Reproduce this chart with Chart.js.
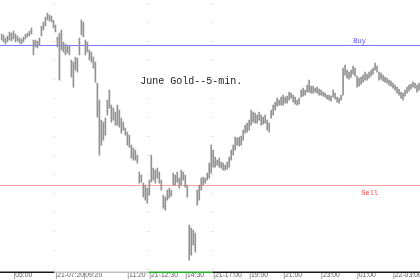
<!DOCTYPE html>
<html><head><meta charset="utf-8">
<script src="https://cdn.jsdelivr.net/npm/chart.js@4"></script>
<style>html,body{margin:0;padding:0;background:#fff;overflow:hidden}</style>
</head><body>
<canvas id="c" width="420" height="280"></canvas>
<script>
// 5-minute bar highs and lows (price)
const barHighs = [
1876.6,1876.5,1876.2,1876.4,1876.8,1876.7,1876.9,1876.6,1876.4,1876.2,
1876.1,1876.3,1876.6,1876.7,1876.9,1877.2,1876.0,1876.0,1875.9,1876.2,
1877.4,1877.8,1878.3,1878.7,1878.5,1878.4,1878.0,1877.5,1876.3,1876.7,
1877.0,1875.8,1875.6,1875.5,1875.4,1874.0,1873.8,1874.3,1874.2,1876.2,
1878.0,1877.8,1876.0,1875.8,1875.0,1874.8,1874.3,1873.8,1871.7,1870.0,
1868.0,1867.8,1868.2,1870.0,1871.0,1869.5,1869.2,1868.8,1869.5,1869.0,
1868.2,1867.8,1867.2,1866.8,1866.5,1865.5,1865.2,1865.0,1864.5,1862.8,
1862.5,1861.7,1861.5,1861.2,1862.0,1864.5,1863.2,1863.0,1863.2,1862.8,
1862.0,1860.5,1860.3,1861.0,1861.2,1861.0,1862.7,1862.5,1862.8,1862.2,
1863.0,1862.8,1862.5,1861.5,1857.5,1857.2,1857.0,1856.7,1861.0,1861.5,
1862.2,1862.3,1862.2,1862.7,1863.7,1865.5,1865.0,1864.3,1864.0,1864.2,
1863.8,1863.7,1863.5,1863.8,1864.3,1865.0,1865.5,1866.3,1866.2,1866.3,
1866.4,1867.0,1867.5,1867.7,1868.0,1869.0,1868.8,1868.7,1868.5,1868.8,
1868.5,1868.3,1868.5,1868.0,1867.7,1869.0,1869.5,1869.8,1870.2,1870.0,
1870.3,1870.5,1870.3,1870.4,1870.8,1870.7,1870.5,1870.3,1870.0,1870.2,
1871.0,1871.2,1871.0,1871.5,1872.0,1871.4,1871.4,1871.2,1871.3,1871.1,
1871.0,1870.8,1870.7,1870.5,1870.5,1870.4,1871.0,1870.7,1870.3,1870.2,
1870.5,1873.2,1873.5,1873.0,1872.8,1873.0,1873.4,1873.2,1872.4,1872.2,
1872.3,1872.5,1872.8,1872.6,1872.8,1873.0,1873.2,1873.7,1873.4,1872.8,
1872.7,1872.5,1872.3,1872.2,1872.0,1871.9,1871.7,1871.5,1871.3,1871.1,
1870.8,1870.7,1871.0,1871.3,1871.5,1871.6,1871.8,1871.7,1871.5,1871.7
];
const barLows = [
1876.0,1875.8,1875.6,1875.8,1876.0,1875.9,1876.1,1875.8,1875.9,1875.7,
1875.6,1875.8,1876.1,1876.3,1876.4,1876.6,1874.5,1875.3,1875.2,1875.5,
1876.4,1877.0,1877.4,1878.0,1877.9,1877.8,1877.2,1876.8,1875.3,1872.0,
1875.0,1874.8,1874.5,1874.7,1874.5,1872.3,1871.3,1873.0,1872.8,1874.5,
1876.5,1876.3,1874.5,1874.8,1874.0,1873.8,1873.2,1871.8,1868.3,1864.5,
1865.5,1866.0,1866.5,1868.5,1869.2,1867.8,1868.0,1867.5,1867.5,1867.3,
1866.7,1867.0,1866.5,1865.5,1865.3,1864.2,1864.0,1864.0,1863.7,1861.7,
1861.8,1860.3,1860.0,1859.7,1860.5,1861.8,1862.0,1861.7,1862.2,1861.7,
1861.0,1859.2,1859.0,1860.0,1860.2,1860.4,1861.5,1861.5,1861.8,1861.2,
1861.5,1862.0,1861.3,1860.3,1854.0,1854.5,1855.5,1854.8,1859.5,1860.0,
1861.0,1861.5,1861.7,1862.0,1862.2,1862.7,1863.3,1863.3,1863.5,1863.3,
1863.2,1863.0,1863.0,1863.1,1863.3,1864.0,1864.5,1865.0,1865.5,1865.4,
1865.5,1866.0,1866.7,1866.8,1867.0,1867.5,1867.8,1867.7,1867.7,1868.0,
1867.5,1867.6,1867.7,1867.0,1866.8,1868.2,1868.5,1869.0,1869.4,1869.5,
1869.5,1869.5,1869.7,1869.7,1870.0,1870.2,1869.8,1869.6,1869.5,1869.6,
1870.3,1870.4,1870.5,1870.8,1870.8,1870.7,1870.7,1870.8,1870.7,1870.5,
1870.5,1870.4,1870.3,1870.1,1870.0,1869.9,1870.3,1870.1,1869.8,1869.7,
1870.0,1870.5,1872.5,1872.2,1872.1,1872.3,1872.6,1872.4,1871.3,1871.4,
1871.6,1871.8,1872.0,1872.0,1872.2,1872.4,1872.6,1873.0,1872.8,1872.0,
1872.1,1871.9,1871.8,1871.7,1871.5,1871.4,1871.2,1871.0,1870.7,1870.5,
1870.2,1870.0,1870.4,1870.7,1870.9,1871.1,1871.3,1871.2,1870.8,1871.0
];
const tickLabels = ['|05:00','|21-07:20','|09:20','|11:20','|21-12:30','|14:30','|21-17:00','|19:00','|21:00','|23:00','|01:00','|22-03:00'];
const tickBars = [6,27,41,63,74,92,106,124,141,160,178,196];
const sessionStarts = [0,27,74,106];
const sessionColors = ['#1a1a1a','#bdbdbd','#22b022','#1a1a1a'];
const levelNames = ['Buy','Sell'];
const levelPrices = [1875.5,1861.5];
const levelLineColors = ['#7878ff','#ff9c9c'];
const levelTextColors = ['#5050ff','#ff4040'];
const chartTitle = 'June Gold--5-min.';
const priceMin = 1852.9, priceMax = 1880.0;

const categories = barHighs.map((_, i) => {
  const k = tickBars.indexOf(i);
  return k >= 0 ? tickLabels[k] : '';
});

const overlay = {
  id: 'overlay',
  beforeDatasetsDraw(chart) {
    const {ctx, chartArea: a, scales: {x, y}} = chart;
    const half = a.width / barHighs.length / 2;
    ctx.save();
    ctx.lineWidth = 1;
    ctx.strokeStyle = '#c8c8c8';
    ctx.setLineDash([1, 18]);
    sessionStarts.slice(1).forEach(s => {
      const px = Math.floor(x.getPixelForValue(s) - half) + 0.5;
      ctx.beginPath(); ctx.moveTo(px, a.top + 3); ctx.lineTo(px, a.bottom); ctx.stroke();
    });
    ctx.setLineDash([]);
    levelPrices.forEach((p, k) => {
      const py = Math.round(y.getPixelForValue(p)) + 0.5;
      ctx.strokeStyle = levelLineColors[k];
      ctx.beginPath(); ctx.moveTo(0, py); ctx.lineTo(chart.width, py); ctx.stroke();
    });
    ctx.restore();
  },
  afterDatasetsDraw(chart) {
    const {ctx, chartArea: a, scales: {x, y}} = chart;
    const half = a.width / barHighs.length / 2;
    ctx.save();
    ctx.lineWidth = 1.5;
    sessionStarts.forEach((s, k) => {
      const x0 = k === 0 ? 0 : x.getPixelForValue(s) - half;
      const x1 = k === sessionStarts.length - 1 ? chart.width : x.getPixelForValue(sessionStarts[k + 1]) - half;
      ctx.strokeStyle = sessionColors[k];
      ctx.beginPath(); ctx.moveTo(x0, a.bottom + 1); ctx.lineTo(x1, a.bottom + 1); ctx.stroke();
    });
    ctx.font = '7px "Liberation Mono"';
    ctx.textAlign = 'center';
    ctx.textBaseline = 'middle';
    const labelX = [0.856, 0.88];
    const labelDy = [-4, 8];
    levelNames.forEach((n, k) => {
      ctx.fillStyle = levelTextColors[k];
      ctx.fillText(n, a.left + a.width * labelX[k], y.getPixelForValue(levelPrices[k]) + labelDy[k]);
    });
    ctx.font = '10px "Liberation Mono"';
    ctx.fillStyle = '#222';
    ctx.textAlign = 'left';
    ctx.fillText(chartTitle, a.left + a.width / 3, a.top + a.height * 0.3);
    ctx.restore();
  }
};

new Chart(document.getElementById('c'), {
  type: 'bar',
  data: {
    labels: categories,
    datasets: [{
      data: barLows.map((l, i) => [l, barHighs[i]]),
      backgroundColor: '#929292',
      borderWidth: 0,
      barThickness: 1
    }]
  },
  options: {
    responsive: false,
    animation: false,
    layout: {padding: {left: 0.5, right: -0.5, top: 0, bottom: 0}},
    plugins: {legend: {display: false}, tooltip: {enabled: false}},
    scales: {
      x: {
        type: 'category',
        offset: true,
        grid: {display: false, drawTicks: false},
        border: {display: false},
        ticks: {
          autoSkip: false, maxRotation: 0, minRotation: 0, align: 'start',
          padding: 1, color: '#5a5a5a',
          font: {family: '"Liberation Sans"', size: 6.8, lineHeight: 1}
        }
      },
      y: {display: false, min: priceMin, max: priceMax}
    }
  },
  plugins: [overlay]
});
</script>
</body></html>
